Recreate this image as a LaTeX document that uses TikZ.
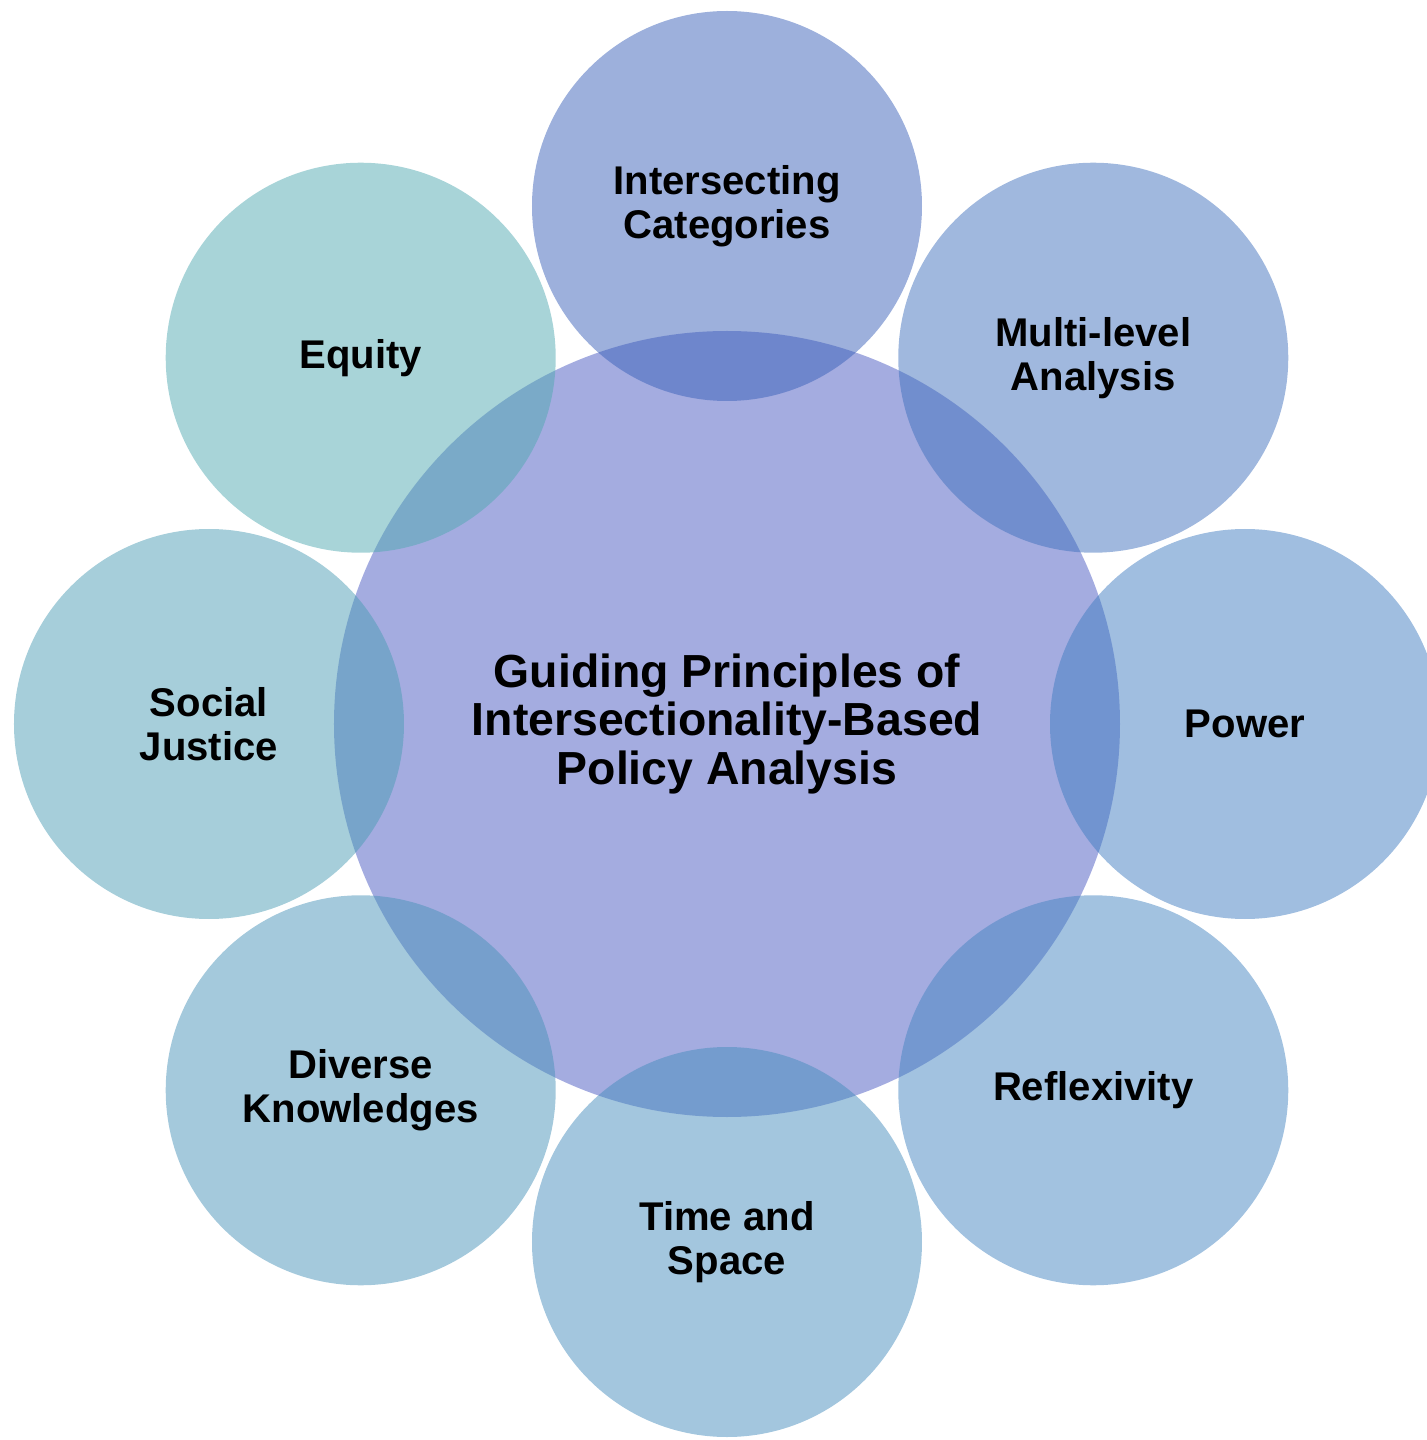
\documentclass[tikz,border=0pt]{standalone}
\usepackage{fontspec}
\setmainfont{Liberation Sans}

% fills are the "pure" tints; at half opacity they give the pale look
\definecolor{hubfill}{RGB}{73,89,193}
\definecolor{catfill}{RGB}{59,97,185}
\definecolor{mlafill}{RGB}{65,113,189}
\definecolor{powfill}{RGB}{65,125,193}
\definecolor{reflfill}{RGB}{69,133,193}
\definecolor{timefill}{RGB}{71,141,189}
\definecolor{knowfill}{RGB}{73,147,185}
\definecolor{justfill}{RGB}{77,157,181}
\definecolor{equifill}{RGB}{81,169,177}

\begin{document}
\begin{tikzpicture}[
  hub/.style={circle, minimum size=7.86cm, inner sep=0pt, fill=hubfill,
    fill opacity=0.5, text opacity=1, align=center,
    font=\bfseries\fontsize{13.2}{13.7}\selectfont},
  petal/.style={circle, minimum size=3.9cm, inner sep=0pt,
    fill opacity=0.5, text opacity=1, align=center,
    font=\bfseries\fontsize{11.4}{12.5}\selectfont}
]
  % page frame (the right petal runs off the page a little)
  \useasboundingbox (-7.27,-7.16) rectangle (7.00,7.24);
  \clip (-7.27,-7.16) rectangle (7.00,7.24);

  \def\orbit{5.18}

  % central circle
  \node[hub] (hub) at (0,0)
    {Guiding Principles of\\Intersectionality-Based\\Policy Analysis};

  % eight principles round the hub, clockwise from the top
  \foreach \ang/\col/\nm/\txt in {
      90/catfill/cat/{Intersecting\\Categories},
      45/mlafill/mla/{Multi-level\\Analysis},
      0/powfill/pow/{Power},
      -45/reflfill/refl/{Reflexivity},
      -90/timefill/time/{Time and\\Space},
      -135/knowfill/know/{Diverse\\Knowledges},
      180/justfill/just/{Social\\Justice},
      135/equifill/equi/{Equity}}{
    \node[petal, fill=\col] (\nm) at (\ang:\orbit) {\txt};
  }
\end{tikzpicture}
\end{document}
